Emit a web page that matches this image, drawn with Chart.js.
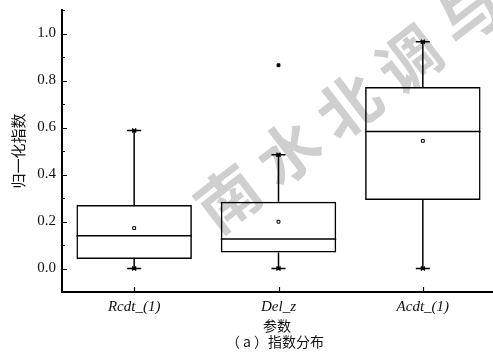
<!DOCTYPE html>
<html>
<head>
<meta charset="utf-8">
<script src="https://cdn.jsdelivr.net/npm/chart.js@4.4.0/dist/chart.umd.min.js"></script>
<style>
body { margin: 0; background: #fff; overflow: hidden; }
canvas { display: block; }
</style>
</head>
<body>
<canvas id="chart" width="500" height="357"></canvas>
<script>
// box statistics per parameter
const categories = ['Rcdt_(1)', 'Del_z', 'Acdt_(1)'];
const whiskerMin = [0.0, 0.0, 0.0];
const q1 = [0.040, 0.068, 0.291];
const median = [0.139, 0.126, 0.583];
const q3 = [0.270, 0.284, 0.772];
const whiskerMax = [0.587, 0.484, 0.965];
const means = [0.172, 0.199, 0.543];
const outlierCats = ['Del_z'];
const outlierVals = [0.865];

const majorTicks = [0.0, 0.2, 0.4, 0.6, 0.8, 1.0];
const minorTicks = [-0.1, 0.1, 0.3, 0.5, 0.7, 0.9, 1.1];

const serif = '"Liberation Serif", "DejaVu Serif", serif';
const cjk = '"Noto Sans CJK SC", sans-serif';

const boxPlugin = {
  id: 'boxParts',
  beforeDraw(chart) {
    // faint diagonal watermark
    const ctx = chart.ctx;
    ctx.save();
    ctx.translate(228, 198);
    ctx.rotate(-37.5 * Math.PI / 180);
    ctx.font = 'bold 62px ' + cjk;
    ctx.fillStyle = 'rgba(160,160,160,0.5)';
    ctx.textAlign = 'center';
    ctx.textBaseline = 'middle';
    const wm = '南水北调与水利科技';
    for (let i = 0; i < wm.length; i++) ctx.fillText(wm[i], i * 76, 0);
    ctx.restore();
  },
  beforeDatasetsDraw(chart) {
    const ctx = chart.ctx;
    const x = chart.scales.x, y = chart.scales.y;
    ctx.save();
    ctx.strokeStyle = '#000';
    ctx.lineWidth = 1.5;
    categories.forEach((c, i) => {
      const px = x.getPixelForValue(i);
      ctx.beginPath();
      ctx.moveTo(px, y.getPixelForValue(whiskerMax[i]));
      ctx.lineTo(px, y.getPixelForValue(q3[i]));
      ctx.moveTo(px, y.getPixelForValue(whiskerMin[i]));
      ctx.lineTo(px, y.getPixelForValue(q1[i]));
      ctx.stroke();
      // caps with small cross markers
      [whiskerMax[i], whiskerMin[i]].forEach(v => {
        const py = y.getPixelForValue(v);
        ctx.beginPath();
        ctx.moveTo(px - 7, py);
        ctx.lineTo(px + 7, py);
        ctx.moveTo(px - 2, py - 2);
        ctx.lineTo(px + 2, py + 2);
        ctx.moveTo(px + 2, py - 2);
        ctx.lineTo(px - 2, py + 2);
        ctx.stroke();
      });
    });
    ctx.restore();
  },
  afterDatasetsDraw(chart) {
    const ctx = chart.ctx;
    const x = chart.scales.x, y = chart.scales.y;
    const area = chart.chartArea;
    const bw = x.width / categories.length * 0.8;
    ctx.save();
    ctx.strokeStyle = '#000';
    ctx.lineWidth = 1.5;
    categories.forEach((c, i) => {
      const px = x.getPixelForValue(i);
      const py = y.getPixelForValue(median[i]);
      ctx.beginPath();
      ctx.moveTo(px - bw / 2, py);
      ctx.lineTo(px + bw / 2, py);
      ctx.stroke();
    });
    // inward tick marks
    ctx.lineWidth = 1.2;
    ctx.beginPath();
    majorTicks.forEach(v => {
      const py = Math.round(y.getPixelForValue(v)) + 0.5;
      ctx.moveTo(area.left, py);
      ctx.lineTo(area.left + 5, py);
    });
    minorTicks.forEach(v => {
      const py = Math.round(y.getPixelForValue(v)) + 0.5;
      ctx.moveTo(area.left, py);
      ctx.lineTo(area.left + 3, py);
    });
    categories.forEach((c, i) => {
      const px = Math.round(x.getPixelForValue(i)) + 0.5;
      ctx.moveTo(px, area.bottom);
      ctx.lineTo(px, area.bottom - 5);
    });
    ctx.stroke();

    // axis titles and caption
    ctx.fillStyle = '#111';
    ctx.textAlign = 'center';
    ctx.textBaseline = 'middle';
    const cx = 277;
    ctx.font = '14px ' + cjk;
    ctx.fillText('参数', cx, 326);
    ctx.fillText('（ a ）指数分布', cx - 2, 342);
    ctx.save();
    ctx.translate(18, (area.top + area.bottom) / 2);
    ctx.rotate(-Math.PI / 2);
    ctx.font = '15px ' + cjk;
    ctx.fillText('归一化指数', 0, 0);
    ctx.restore();
    ctx.restore();
  }
};

new Chart(document.getElementById('chart'), {
  type: 'bar',
  data: {
    labels: categories,
    datasets: [{
      label: 'box',
      data: categories.map((c, i) => [q1[i], q3[i]]),
      backgroundColor: 'rgba(255,255,255,0)',
      borderColor: '#000',
      borderWidth: 1.5,
      borderSkipped: false,
      barPercentage: 0.8,
      categoryPercentage: 1.0,
      order: 2
    }, {
      type: 'line',
      label: 'mean',
      data: categories.map((c, i) => ({ x: c, y: means[i] })),
      showLine: false,
      pointStyle: 'rect',
      pointRadius: 2,
      pointBackgroundColor: '#fff',
      pointBorderColor: '#000',
      pointBorderWidth: 1,
      order: 1
    }, {
      type: 'line',
      label: 'outlier',
      data: outlierCats.map((c, i) => ({ x: c, y: outlierVals[i] })),
      showLine: false,
      pointStyle: 'rect',
      pointRadius: 2,
      pointBackgroundColor: '#000',
      pointBorderColor: '#000',
      pointBorderWidth: 1,
      order: 1
    }]
  },
  options: {
    responsive: false,
    animation: false,
    layout: { padding: { top: 10, right: 0, bottom: 0, left: 0 } },
    plugins: { legend: { display: false }, tooltip: { enabled: false } },
    scales: {
      x: {
        type: 'category',
        offset: true,
        grid: { display: false, drawTicks: false },
        border: { display: true, color: '#000', width: 2 },
        ticks: {
          color: '#111',
          padding: 6,
          font: { family: serif, size: 15, style: 'italic' }
        },
        afterFit(scale) {
          scale.height = 65;
          scale.paddingLeft = 0;
          scale.paddingRight = 0;
        }
      },
      y: {
        min: -0.1,
        max: 1.1,
        grid: { display: false, drawTicks: false },
        border: { display: true, color: '#000', width: 2 },
        afterBuildTicks(scale) { scale.ticks = majorTicks.map(v => ({ value: v })); },
        ticks: {
          color: '#111',
          padding: 6,
          font: { family: serif, size: 15 },
          callback: v => v.toFixed(1)
        },
        afterFit(scale) {
          scale.width = 62;
          scale.paddingTop = 0;
          scale.paddingBottom = 0;
        }
      }
    }
  },
  plugins: [boxPlugin]
});
</script>
</body>
</html>
